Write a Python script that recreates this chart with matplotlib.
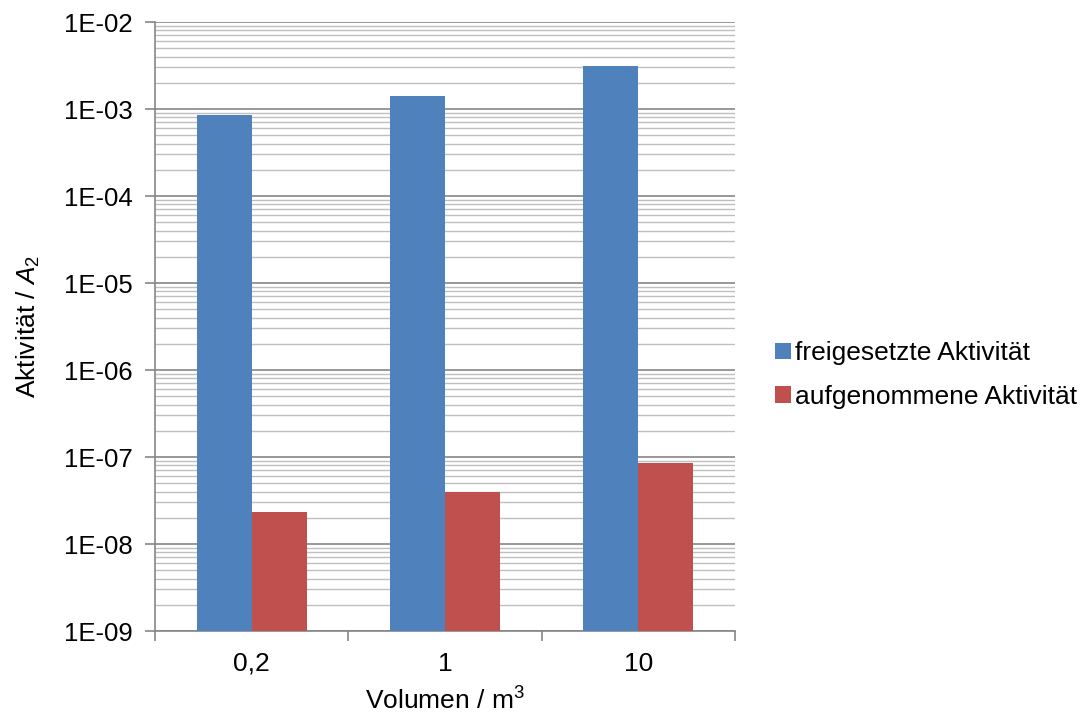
import matplotlib
matplotlib.use("Agg")
import matplotlib.pyplot as plt
import numpy as np
from matplotlib.ticker import LogLocator, FuncFormatter, NullFormatter

categories = ["0,2", "1", "10"]
freigesetzt = [8.5e-4, 1.41e-3, 3.12e-3]
aufgenommen = [2.36e-8, 3.94e-8, 8.63e-8]
series_names = ["freigesetzte Aktivität", "aufgenommene Aktivität"]

plt.rcParams['font.family'] = ['Liberation Sans', 'DejaVu Sans']
plt.rcParams['mathtext.fontset'] = 'custom'
plt.rcParams['mathtext.rm'] = 'Liberation Sans'
plt.rcParams['mathtext.it'] = 'Liberation Sans:italic'

FS = 19
fig = plt.figure(figsize=(10.88, 7.13), dpi=100)
ax = fig.add_axes([155/1088, 1-631/713, (735-155)/1088, (631-22)/713])

x = np.arange(len(categories))
w = 0.285
ax.bar(x - w/2, freigesetzt, width=w, color="#4F81BD", label=series_names[0], zorder=3)
ax.bar(x + w/2, aufgenommen, width=w, color="#C0504D", label=series_names[1], zorder=3)

ax.set_yscale('log')
ax.set_ylim(1e-9, 1e-2)
ax.set_xlim(-0.5, 2.5)

ax.yaxis.set_major_locator(LogLocator(base=10, numticks=20))
ax.yaxis.set_minor_locator(LogLocator(base=10, subs=np.arange(2, 10), numticks=20))
ax.yaxis.set_major_formatter(FuncFormatter(lambda v, p: "1E-%02d" % round(-np.log10(v))))
ax.yaxis.set_minor_formatter(NullFormatter())
ax.grid(True, which='major', axis='y', color='#868686', linewidth=1.2, zorder=0)
ax.grid(True, which='minor', axis='y', color='#BFBFBF', linewidth=1.0, zorder=0)

ax.set_xticks(x)
ax.set_xticklabels(categories)
ax.set_xticks([-0.5, 0.5, 1.5, 2.5], minor=True)
ax.xaxis.set_minor_formatter(NullFormatter())
ax.tick_params(axis='x', which='major', length=0, labelsize=FS, pad=15)
ax.tick_params(axis='x', which='minor', length=7, width=1.2, color='#868686', direction='out')
ax.tick_params(axis='y', which='major', length=7, width=1.2, color='#868686', labelsize=18.5, direction='out', pad=9)
ax.tick_params(axis='y', which='minor', length=0)

for s in ['top', 'right']:
    ax.spines[s].set_visible(False)
for s in ['left', 'bottom']:
    ax.spines[s].set_color('#868686')
    ax.spines[s].set_linewidth(1.2)

ax.set_xlabel("Volumen / m$^3$", fontsize=FS, labelpad=8)
ax.set_ylabel("Aktivität / $\\mathit{A}_2$", fontsize=FS, labelpad=16)

leg = fig.legend(loc='upper left', bbox_to_anchor=(762/1088, 1-328/713), frameon=False,
                 fontsize=FS, handlelength=0.6, handleheight=0.6, handletextpad=0.15,
                 labelspacing=0.75, borderpad=0)

fig.savefig("out.png", dpi=100)
